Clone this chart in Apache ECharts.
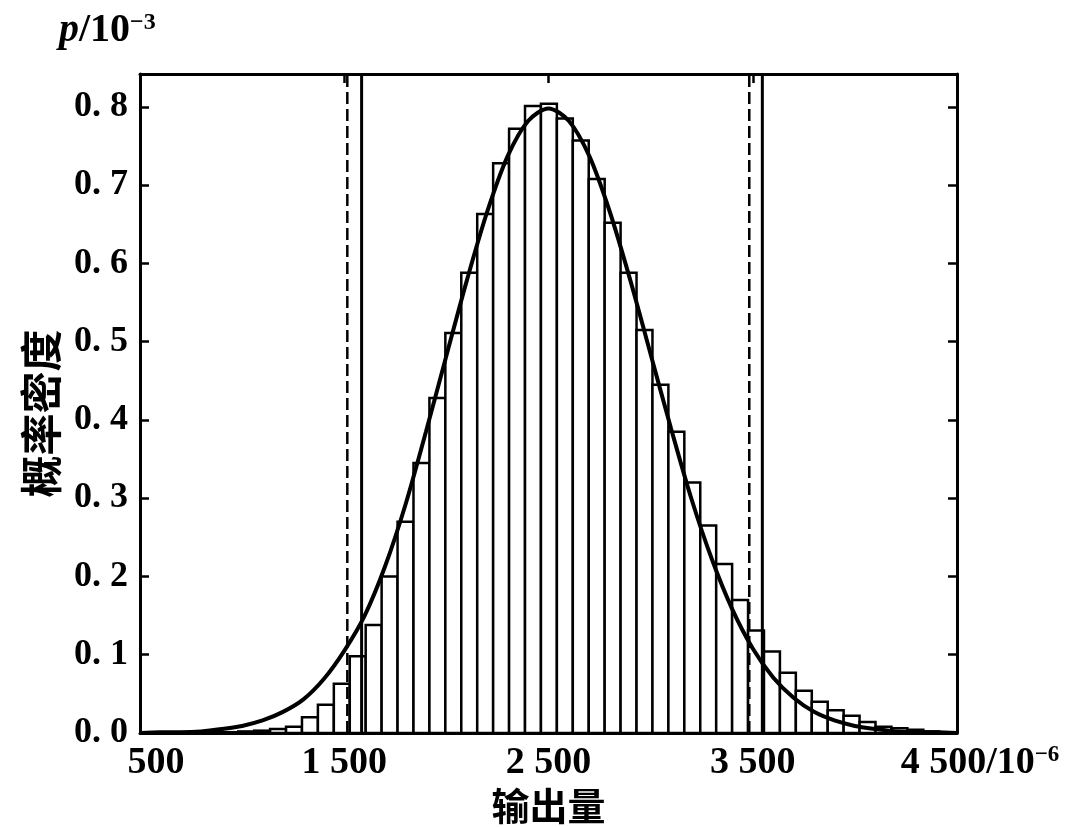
<!DOCTYPE html>
<html><head><meta charset="utf-8">
<script src="https://cdn.jsdelivr.net/npm/echarts@6/dist/echarts.min.js"></script>
<style>html,body{margin:0;padding:0;background:#fff}#c{width:1076px;height:827px}</style>
</head><body><div id="c"></div>
<script>
// Histogram (MCM) : bins of equal width starting at binStart
const binStart = 825;
const binWidth = 78;
const binHeights = [0.001,0.001,0.002,0.003,0.005,0.008,0.020,0.036,0.063,0.098,
  0.138,0.200,0.270,0.345,0.428,0.511,0.588,0.663,0.728,0.772,
  0.801,0.804,0.785,0.757,0.708,0.652,0.588,0.515,0.445,0.385,
  0.320,0.265,0.216,0.170,0.131,0.104,0.077,0.054,0.040,0.029,
  0.022,0.014,0.008,0.006,0.004,0.002];
// GUM curve
const curveX = [500,600,700,800,900,1000,1100,1200,1300,1400,1500,1600,1700,1800,1900,2000,2100,2200,2300,2400,2500,
  2600,2700,2800,2900,3000,3100,3200,3300,3400,3500,3600,3700,3800,3900,4000,4100,4200,4300,4400,4500];
const curveP = [0.000,0.001,0.001,0.002,0.005,0.009,0.016,0.027,0.043,0.069,0.105,0.150,0.213,0.292,0.385,0.482,0.578,0.666,0.737,0.782,0.798,
  0.782,0.737,0.666,0.579,0.484,0.389,0.299,0.222,0.158,0.108,0.071,0.045,0.027,0.016,0.009,0.005,0.002,0.001,0.001,0.000];
// coverage interval limits
const gumInterval = [1515, 3483];
const mcmInterval = [1585, 3547];
const xMin = 500, xMax = 4500, xStep = 1000;
const yMin = 0, yMax = 0.842, yStep = 0.1;

const chart = echarts.init(document.getElementById('c'), null, {renderer:'canvas'});
const serif = '"Liberation Serif", "Times New Roman", serif';
const cjk = '"Noto Sans CJK SC", sans-serif';
function fmtX(v){
  const s = String(v).replace(/\B(?=(\d{3})+(?!\d))/g, ' ');
  if (v === xMin) return '{gap| }' + s;
  if (v === xMax) return '{gap2| }' + s + '/10{sup|−6}';
  return s;
}
function fmtY(v){
  if (Math.abs(Math.round(v*10) - v*10) > 1e-6) return '';
  return v.toFixed(1).replace('.', '. ');
}
const vline = (v, type, w) => ({
  type:'line', data:[[v, yMin],[v, yMax]], symbol:'none', silent:true, z:5,
  lineStyle:{color:'#000', width:w, type:type}
});
const axisCommon = {
  axisLine:{show:true, onZero:false, lineStyle:{color:'#000', width:3}},
  axisTick:{show:true, inside:true, length:9, lineStyle:{color:'#000', width:2.5}},
  splitLine:{show:false}
};
chart.setOption({
  animation:false,
  backgroundColor:'#fff',
  title:{
    text:'{i|p}/10{sup|−3}', left:54, top:6,
    textStyle:{
      rich:{
        i:{fontFamily:serif, fontStyle:'italic', fontWeight:'bold', fontSize:40, color:'#000'},
        sup:{fontFamily:serif, fontSize:24, fontWeight:'bold', verticalAlign:'top', color:'#000'}
      },
      fontFamily:serif, fontWeight:'bold', fontSize:40, color:'#000'
    }
  },
  grid:{left:140, right:119, top:74, bottom:94, outerBoundsMode:'none', containLabel:false},
  xAxis:[{
    type:'value', min:xMin, max:xMax, interval:xStep, position:'bottom',
    ...axisCommon,
    axisLabel:{show:true, margin:11, color:'#000', fontFamily:serif, fontWeight:'bold', fontSize:38,
      formatter:fmtX,
      rich:{
        gap:{width:32},
        gap2:{width:46},
        sup:{fontFamily:serif, fontWeight:'bold', fontSize:23, verticalAlign:'top', color:'#000'}
      }},
    name:'输出量', nameLocation:'middle', nameGap:53,
    nameTextStyle:{fontFamily:cjk, fontWeight:'bold', fontSize:38, color:'#000'}
  },{
    type:'value', min:xMin, max:xMax, interval:xStep, position:'top',
    ...axisCommon, axisLabel:{show:false}
  }],
  yAxis:[{
    type:'value', min:yMin, max:yMax, interval:yStep, position:'left',
    ...axisCommon,
    axisLabel:{show:true, margin:12, color:'#000', fontFamily:serif, fontWeight:'bold', fontSize:36,
      formatter:fmtY, showMaxLabel:false},
    name:'概率密度', nameLocation:'middle', nameGap:78, nameRotate:90,
    nameTextStyle:{fontFamily:cjk, fontWeight:'bold', fontSize:42, color:'#000', padding:[0,20,0,0]}
  },{
    type:'value', min:yMin, max:yMax, interval:yStep, position:'right',
    ...axisCommon, axisLabel:{show:false}
  }],
  series:[
    {
      type:'custom', clip:true, z:2,
      data: binHeights.map((h,i)=>[binStart+i*binWidth, binStart+(i+1)*binWidth, h]),
      encode:{x:[0,1], y:2},
      renderItem:function(params, api){
        const p0 = api.coord([api.value(0), api.value(2)]);
        const p1 = api.coord([api.value(1), 0]);
        return {type:'rect', shape:{x:p0[0], y:p0[1], width:p1[0]-p0[0], height:p1[1]-p0[1]},
          style:{fill:'#fff', stroke:'#000', lineWidth:2.5}};
      }
    },
    {
      type:'line', z:4, symbol:'none', smooth:0.3,
      data: curveX.map((x,i)=>[x, curveP[i]]),
      lineStyle:{color:'#000', width:4}
    },
    vline(gumInterval[0], [12,5], 2.5),
    vline(gumInterval[1], [12,5], 2.5),
    vline(mcmInterval[0], 'solid', 3),
    vline(mcmInterval[1], 'solid', 3)
  ]
});
</script></body></html>
